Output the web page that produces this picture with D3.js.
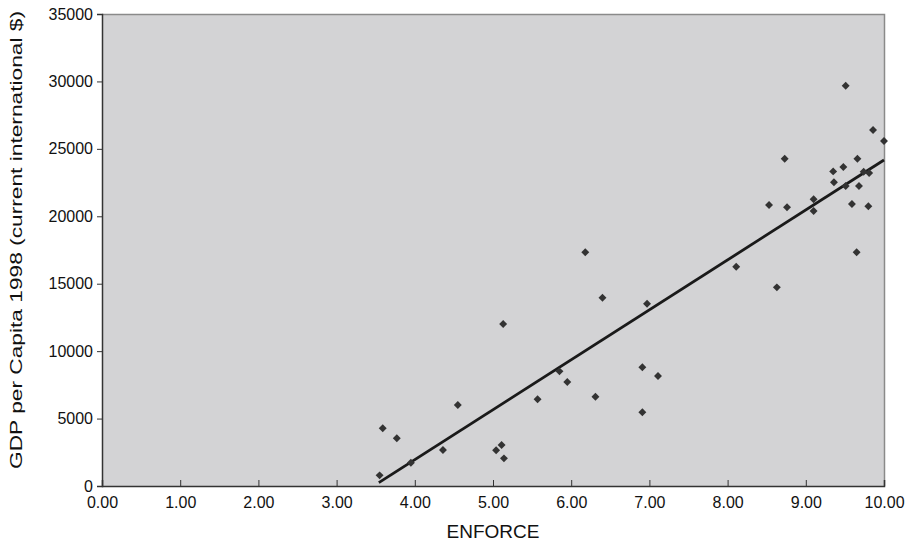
<!DOCTYPE html>
<html>
<head>
  <meta charset="utf-8">
  <script src="https://d3js.org/d3.v7.min.js"></script>
  <style type="text/css">
    * { font-family: "Liberation Sans", Arial, Helvetica, sans-serif }
    body { margin: 0; background: #fff }
  </style>
</head>
<body>
<div id="my_dataviz"></div>
<script>

// ENFORCE score of each country
var enforce = [3.59, 3.77, 3.55, 3.95, 4.36, 4.55, 5.04, 5.11, 5.14, 5.57,
               5.13, 6.18, 6.40, 6.97, 5.85, 5.95, 6.31, 6.91, 7.11, 6.91,
               9.51, 9.86, 10.00, 8.73, 9.66, 9.48, 9.35, 9.74, 9.81, 9.36,
               9.51, 9.68, 9.10, 9.10, 8.53, 8.76, 9.59, 9.80, 9.65, 8.11, 8.63];
// GDP per capita 1998
var gdp = [4280, 3540, 790, 1730, 2670, 6010, 2650, 3040, 2050, 6430,
           12010, 17330, 13960, 13520, 8500, 7710, 6620, 8800, 8160, 5470,
           29680, 26400, 25580, 24270, 24270, 23650, 23330, 23300, 23210, 22520,
           22250, 22250, 21260, 20390, 20840, 20670, 20910, 20740, 17330, 16260, 14730];

// linear trend line
var trendSlope = 3703;
var trendIntercept = -12858;
var trendRange = [3.54, 10];

var xTicks = [0, 1, 2, 3, 4, 5, 6, 7, 8, 9, 10];
var yTicks = [0, 5000, 10000, 15000, 20000, 25000, 30000, 35000];

var margin = {top: 14, right: 23, bottom: 55, left: 102},
    width = 907 - margin.left - margin.right,
    height = 541 - margin.top - margin.bottom;

var svg = d3.select("#my_dataviz")
  .append("svg")
    .attr("width", 907)
    .attr("height", 541)
  .append("g")
    .attr("transform", "translate(" + margin.left + "," + margin.top + ")");

var x = d3.scaleLinear().domain([0, 10]).range([0, width]);
var y = d3.scaleLinear().domain([0, 35000]).range([height, 0]);

// plot area
svg.append("rect")
  .attr("width", width)
  .attr("height", height)
  .attr("fill", "#d3d3d5");
svg.append("path")
  .attr("d", "M0,0.5H" + (width + 0.5) + "V" + height)
  .attr("fill", "none")
  .attr("stroke", "#8a8a8a")
  .attr("stroke-width", 1.5);

// X axis, ticks pointing inward
var xAxis = svg.append("g")
  .attr("transform", "translate(0," + height + ")")
  .call(d3.axisBottom(x).tickValues(xTicks).tickSize(-6).tickPadding(11).tickFormat(d3.format(".2f")));
xAxis.select(".domain").attr("stroke", "#333").attr("stroke-width", 1.5);
xAxis.selectAll(".tick line").attr("stroke", "#333");
xAxis.selectAll("text").style("font-size", "16px").attr("fill", "#111");

// Y axis, ticks pointing outward
var yAxis = svg.append("g")
  .call(d3.axisLeft(y).tickValues(yTicks).tickSize(5).tickPadding(4).tickFormat(d3.format("d")));
yAxis.select(".domain").attr("stroke", "#333").attr("stroke-width", 1.5);
yAxis.selectAll(".tick line").attr("stroke", "#333");
yAxis.selectAll("text").style("font-size", "16px").attr("fill", "#111");

// axis titles
svg.append("text")
  .attr("x", width / 2)
  .attr("y", height + 52)
  .attr("text-anchor", "middle")
  .style("font-size", "19px")
  .attr("fill", "#111")
  .text("ENFORCE");

svg.append("text")
  .attr("transform", "translate(" + (-80) + "," + (height / 2 - 10) + ") rotate(-90)")
  .attr("text-anchor", "middle")
  .attr("textLength", 458)
  .attr("lengthAdjust", "spacingAndGlyphs")
  .style("font-size", "17px")
  .attr("fill", "#111")
  .text("GDP per Capita 1998 (current international $)");

// trend line
svg.append("line")
  .attr("x1", x(trendRange[0]))
  .attr("y1", y(trendSlope * trendRange[0] + trendIntercept))
  .attr("x2", x(trendRange[1]))
  .attr("y2", y(trendSlope * trendRange[1] + trendIntercept))
  .attr("stroke", "#1a1a1a")
  .attr("stroke-width", 2.8);

// points
var diamond = d3.symbol().type(d3.symbolDiamond2).size(40);
svg.selectAll("mypoints")
  .data(enforce)
  .enter()
  .append("path")
    .attr("d", diamond)
    .attr("transform", function(d, i) { return "translate(" + x(d) + "," + y(gdp[i]) + ")"; })
    .attr("fill", "#333");

</script>
</body>
</html>
